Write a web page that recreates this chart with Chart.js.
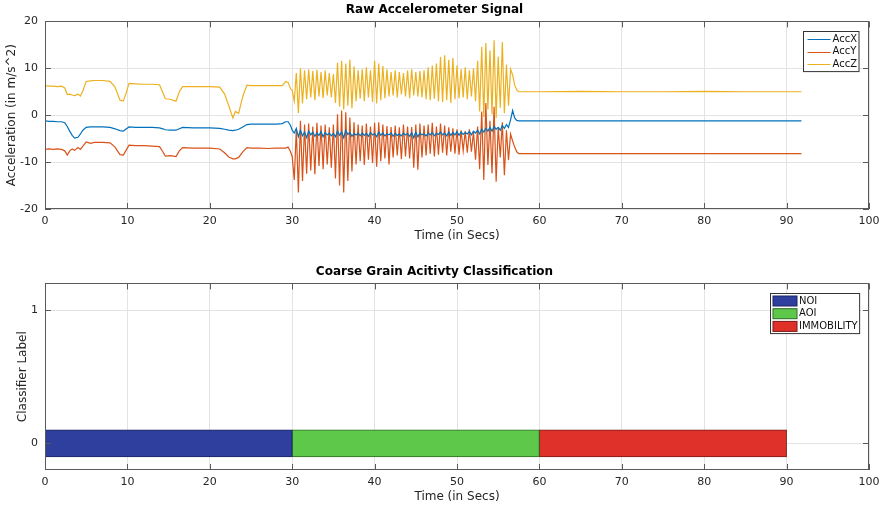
<!DOCTYPE html>
<html>
<head>
<meta charset="utf-8">
<script src="https://cdn.jsdelivr.net/npm/chart.js@4.4.0/dist/chart.umd.min.js"></script>
<style>
  html, body { margin: 0; padding: 0; background: #fff; }
  #wrap { position: relative; width: 887px; height: 509px; }
  .pane { position: absolute; left: 0; width: 887px; }
</style>
</head>
<body>
<div id="wrap">
  <div class="pane" style="top:0;height:250px"><canvas id="rawChart"></canvas></div>
  <div class="pane" style="top:250px;height:259px"><canvas id="classChart"></canvas></div>
</div>
<script>
// Raw accelerometer samples (time in secs, acc in m/s^2)
var timeSec = [
  0, 0.5, 1, 1.5, 2, 2.4, 2.7, 3, 3.3, 3.6,
  4, 4.3, 4.6, 5, 5.5, 6, 7, 7.9, 8.5, 9.1,
  9.5, 9.8, 10.2, 11, 12, 13, 13.9, 14.3, 14.6, 15.2,
  15.9, 16.3, 16.7, 18, 19, 20, 21.2, 21.8, 22.3, 22.8,
  23.1, 23.5, 24, 24.5, 25, 26, 27, 28, 28.8, 29.2,
  29.5, 29.8, 30,
  30.25, 30.5, 30.75, 31, 31.25, 31.5, 31.75, 32,
  32.25, 32.5, 32.75, 33, 33.25, 33.5, 33.75, 34,
  34.25, 34.5, 34.75, 35, 35.25, 35.5, 35.75, 36,
  36.25, 36.5, 36.75, 37, 37.25, 37.5, 37.75, 38,
  38.25, 38.5, 38.75, 39, 39.25, 39.5, 39.75, 40,
  40.25, 40.5, 40.75, 41, 41.25, 41.5, 41.75, 42,
  42.25, 42.5, 42.75, 43, 43.25, 43.5, 43.75, 44,
  44.25, 44.5, 44.75, 45, 45.25, 45.5, 45.75, 46,
  46.25, 46.5, 46.75, 47, 47.25, 47.5, 47.75, 48,
  48.25, 48.5, 48.75, 49, 49.25, 49.5, 49.75, 50,
  50.25, 50.5, 50.75, 51, 51.25, 51.5, 51.75, 52,
  52.25, 52.5, 52.75, 53, 53.25, 53.5, 53.75, 54,
  54.25, 54.5, 54.75, 55, 55.25, 55.5, 55.75, 56,
  56.25, 56.5, 56.75, 57, 57.25, 57.5,
  58, 60, 65, 70, 75, 80, 85, 90, 91.8
];

var accX = [
  -1.2, -1.3, -1.3, -1.4, -1.4, -1.6, -2.4, -3.4, -4.3, -4.9,
  -4.7, -4.0, -3.2, -2.6, -2.5, -2.5, -2.5, -2.6, -2.9, -3.3,
  -3.4, -3.0, -2.5, -2.6, -2.6, -2.6, -2.7, -2.9, -3.1, -3.2,
  -3.2, -2.9, -2.6, -2.7, -2.7, -2.7, -2.8, -3.0, -3.2, -3.3,
  -3.2, -3.0, -2.5, -2.0, -1.9, -1.9, -1.9, -1.9, -1.8, -1.4,
  -1.4, -2.2, -3.2,
  -3.8, -2.8, -4.6, -3.2, -4.4, -3.6, -4.8, -3.4,
  -4.2, -3.6, -4.5, -3.8, -4.3, -3.5, -4.6, -3.7,
  -4.2, -3.8, -4.4, -3.9, -4.6, -3.4, -4.3, -3.6,
  -4.8, -3.2, -4.1, -3.7, -4.5, -3.9, -4.2, -3.8,
  -4.4, -3.8, -4.3, -3.9, -4.5, -3.7, -4.2, -3.9,
  -4.6, -3.6, -4.3, -3.8, -4.4, -4.0, -4.2, -3.8,
  -4.5, -3.9, -4.3, -4.0, -4.4, -3.8, -4.2, -3.9,
  -4.5, -3.7, -4.8, -3.6, -4.6, -3.8, -4.2, -4.0,
  -4.4, -3.8, -4.2, -3.7, -4.4, -3.9, -4.1, -3.6,
  -4.2, -3.8, -4.4, -3.6, -4.3, -3.7, -4.2, -3.5,
  -4.3, -3.6, -4.1, -3.7, -4.0, -3.5, -4.2, -3.4,
  -3.8, -3.2, -4.0, -3.0, -3.6, -2.8, -3.4, -2.6,
  -3.4, -2.4, -3.0, -2.6, -3.2, -2.2, -2.8, -2.0,
  -2.6, -1.0, 1.0, -0.6, -1.1, -1.2,
  -1.2, -1.2, -1.2, -1.2, -1.2, -1.2, -1.2, -1.2, -1.2
];

var accY = [
  -7.3, -7.2, -7.3, -7.2, -7.3, -7.6, -8.5, -7.6, -7.2, -7.5,
  -6.9, -7.3, -6.6, -5.7, -6.0, -5.8, -5.8, -5.9, -6.8, -8.4,
  -8.5, -7.6, -6.4, -6.5, -6.5, -6.6, -6.7, -7.8, -8.7, -8.6,
  -8.8, -7.6, -6.9, -7.0, -7.0, -7.0, -7.2, -8.0, -8.9, -9.3,
  -9.3, -9.0, -7.8, -6.9, -7.0, -7.0, -7.1, -7.0, -7.0, -7.0,
  -6.8, -7.8, -8.8,
  -13.8, -3.0, -16.5, -1.2, -14.0, -2.0, -12.5, -1.8,
  -11.8, -2.4, -12.6, -1.6, -10.8, -2.2, -11.5, -2.0,
  -10.5, -2.6, -11.2, -2.0, -13.5, 0.2, -15.0, 1.0,
  -16.5, 0.6, -14.0, -0.5, -12.0, -1.5, -10.5, -2.0,
  -9.8, -2.2, -10.6, -1.8, -9.5, -2.4, -10.2, -1.6,
  -11.0, -1.5, -9.8, -2.0, -9.2, -2.3, -10.5, -2.5,
  -9.0, -2.2, -8.6, -2.6, -9.4, -2.0, -8.8, -2.4,
  -9.2, -2.5, -11.2, -2.0, -11.6, -1.8, -9.0, -2.2,
  -8.6, -2.0, -8.2, -1.6, -8.8, -2.4, -8.4, -1.8,
  -8.0, -2.2, -8.6, -2.6, -7.8, -2.8, -8.2, -3.0,
  -8.4, -3.2, -7.6, -3.4, -8.0, -3.0, -7.8, -3.6,
  -9.5, -2.4, -11.5, 0.8, -13.8, 2.6, -10.6, -1.2,
  -12.4, 1.8, -14.2, -2.5, -9.0, -1.5, -12.8, -3.2,
  -9.6, -4.0, -5.5, -6.8, -7.8, -8.2,
  -8.2, -8.2, -8.2, -8.2, -8.2, -8.2, -8.2, -8.2, -8.2
];

var accZ = [
  6.3, 6.2, 6.2, 6.1, 6.2, 5.8, 4.4, 4.5, 4.3, 4.2,
  4.5, 4.1, 5.2, 7.2, 7.3, 7.4, 7.4, 7.2, 6.0, 3.2,
  3.0, 4.5, 6.8, 6.7, 6.6, 6.6, 6.5, 4.8, 3.5, 3.4,
  3.0, 5.0, 6.1, 6.1, 6.1, 6.1, 6.0, 4.5, 2.0, -0.6,
  0.8, 0.4, 4.0, 6.4, 6.3, 6.3, 6.3, 6.3, 6.3, 7.2,
  7.0, 5.6, 5.3,
  3.0, 9.0, 0.5, 10.0, 2.5, 9.6, 3.4, 9.8,
  3.8, 9.4, 3.2, 9.7, 4.0, 9.2, 3.6, 9.5,
  4.2, 9.0, 3.8, 8.8, 2.6, 11.2, 1.8, 11.6,
  1.2, 11.0, 2.0, 11.8, 1.5, 10.4, 3.0, 9.6,
  3.5, 9.8, 3.0, 10.2, 3.8, 9.6, 2.8, 11.6,
  2.5, 11.0, 3.2, 10.5, 3.6, 9.8, 4.0, 9.2,
  4.2, 9.6, 3.8, 9.2, 4.4, 9.0, 4.0, 9.5,
  3.6, 9.8, 4.2, 9.2, 4.0, 9.4, 3.8, 9.6,
  3.4, 10.2, 3.2, 10.6, 3.5, 11.0, 3.0, 12.4,
  2.8, 12.8, 3.2, 11.8, 2.6, 12.2, 3.4, 10.6,
  3.6, 9.8, 3.8, 10.2, 3.4, 9.6, 4.0, 10.0,
  3.0, 11.6, 0.8, 14.6, -0.4, 15.4, 1.2, 13.8,
  0.2, 16.0, -0.6, 12.5, 1.6, 15.6, 0.4, 10.8,
  2.0, 9.8, 8.6, 6.4, 5.4, 5.0,
  5.0, 5.0, 5.1, 5.0, 5.0, 5.1, 5.0, 5.0, 5.0
];

var seriesNames = ['AccX', 'AccY', 'AccZ'];
var seriesColors = ['#0072bd', '#d95319', '#edb120'];

// Coarse classification segments
var classLabels = ['NOI', 'AOI', 'IMMOBILITY'];
var classStart = [0, 30, 60];
var classEnd = [30, 60, 90];
var classLevel = [0, 0, 0];
var classColors = ['#2e3f9e', '#5ec84a', '#e0302a'];
var classBorders = ['#1c2660', '#2f6a24', '#7a1a16'];

var timeTicks = [0, 10, 20, 30, 40, 50, 60, 70, 80, 90, 100];
var accTicks = [-20, -10, 0, 10, 20];
var classTicks = [0, 1];

Chart.defaults.font.family = "'DejaVu Sans', sans-serif";
Chart.defaults.color = '#262626';

function toPoints(ys) {
  return ys.map(function(v, i) { return { x: timeSec[i], y: v }; });
}

// box round the plot area with inward ticks on all four sides
var boxAxes = {
  id: 'boxAxes',
  afterDraw: function(chart) {
    var ctx = chart.ctx, a = chart.chartArea, sx = chart.scales.x, sy = chart.scales.y;
    ctx.save();
    ctx.strokeStyle = '#5a5a5a';
    ctx.lineWidth = 1;
    ctx.strokeRect(Math.round(a.left) + 0.5, Math.round(a.top) + 0.5,
      Math.round(a.right - a.left) - 1, Math.round(a.bottom - a.top) - 1);
    ctx.beginPath();
    sx.ticks.forEach(function(t) {
      var px = Math.round(sx.getPixelForValue(t.value)) + 0.5;
      ctx.moveTo(px, a.bottom); ctx.lineTo(px, a.bottom - 6);
      ctx.moveTo(px, a.top); ctx.lineTo(px, a.top + 6);
    });
    sy.ticks.forEach(function(t) {
      var py = Math.round(sy.getPixelForValue(t.value)) + 0.5;
      ctx.moveTo(a.left, py); ctx.lineTo(a.left + 6, py);
      ctx.moveTo(a.right, py); ctx.lineTo(a.right - 6, py);
    });
    ctx.stroke();
    ctx.restore();
  }
};

// MATLAB style legend in the top right corner of the plot area
var boxLegend = {
  id: 'boxLegend',
  afterDraw: function(chart) {
    var ctx = chart.ctx, a = chart.chartArea;
    var sets = chart.data.datasets;
    var isBar = chart.config.type === 'bar';
    ctx.save();
    ctx.font = "10px 'DejaVu Sans', sans-serif";
    var tw = 0;
    sets.forEach(function(d) { tw = Math.max(tw, ctx.measureText(d.label).width); });
    var sample = isBar ? 24 : 23;
    var padL = isBar ? 2.5 : 4;
    var w = padL + sample + 2 + tw + 2;
    var rowH = 12.7;
    var h = sets.length * rowH + 2;
    var x0 = Math.round(a.right - 10 - w) + 0.5;
    var y0 = Math.round(a.top + 10) + 0.5;
    ctx.fillStyle = '#fff';
    ctx.fillRect(x0, y0, w, h);
    ctx.strokeStyle = '#333';
    ctx.lineWidth = 1;
    ctx.strokeRect(x0, y0, w, h);
    sets.forEach(function(d, i) {
      var cy = y0 + 7.5 + i * rowH;
      if (isBar) {
        ctx.fillStyle = d.backgroundColor;
        ctx.fillRect(x0 + padL, cy - 5, sample, 10);
        ctx.strokeStyle = d.borderColor;
        ctx.strokeRect(x0 + padL, cy - 5, sample, 10);
      } else {
        ctx.strokeStyle = d.borderColor;
        ctx.beginPath();
        ctx.moveTo(x0 + padL, Math.round(cy) + 0.5);
        ctx.lineTo(x0 + padL + sample, Math.round(cy) + 0.5);
        ctx.stroke();
      }
      ctx.fillStyle = '#111';
      ctx.textBaseline = 'middle';
      ctx.fillText(d.label, x0 + padL + sample + 2, cy);
    });
    ctx.restore();
  }
};

function fixTicks(list) {
  return function(scale) {
    scale.ticks = list.map(function(v) { return { value: v }; });
  };
}

function fixSize(size) {
  return function(scale) {
    if (scale.isHorizontal()) scale.height = size; else scale.width = size;
  };
}

var gridStyle = { color: '#e3e3e3', drawTicks: false };

// top: raw signal
new Chart(document.getElementById('rawChart').getContext('2d'), {
  type: 'line',
  data: {
    datasets: [accX, accY, accZ].map(function(s, i) {
      return {
        label: seriesNames[i],
        data: toPoints(s),
        borderColor: seriesColors[i],
        backgroundColor: seriesColors[i],
        borderWidth: 1.2,
        pointRadius: 0,
        tension: 0,
        fill: false
      };
    })
  },
  options: {
    responsive: true,
    maintainAspectRatio: false,
    animation: false,
    layout: { padding: { left: 0, right: 18, top: 0, bottom: 0 } },
    plugins: {
      legend: { display: false },
      tooltip: { enabled: false },
      title: {
        display: true,
        text: 'Raw Accelerometer Signal',
        color: '#000',
        font: { size: 12, weight: 'bold' },
        padding: { top: 3, bottom: 4 }
      }
    },
    scales: {
      x: {
        type: 'linear', min: 0, max: 100,
        afterBuildTicks: fixTicks(timeTicks),
        afterFit: fixSize(41),
        grid: gridStyle,
        border: { display: false },
        ticks: { padding: 6, font: { size: 11 }, maxRotation: 0 },
        title: { display: true, text: 'Time (in Secs)', font: { size: 12 }, padding: { top: 0, bottom: 7 } }
      },
      y: {
        type: 'linear', min: -20, max: 20,
        afterBuildTicks: fixTicks(accTicks),
        afterFit: fixSize(45),
        grid: gridStyle,
        border: { display: false },
        ticks: { padding: 7, font: { size: 11 } },
        title: { display: true, text: 'Acceleration (in m/s^2)', font: { size: 12 }, padding: { top: 5, bottom: 0 } }
      }
    }
  },
  plugins: [boxAxes, boxLegend]
});

// bottom: classifier output as floating bars
new Chart(document.getElementById('classChart').getContext('2d'), {
  type: 'bar',
  data: {
    datasets: classLabels.map(function(lab, i) {
      return {
        label: lab,
        data: [{ x: [classStart[i], classEnd[i]], y: classLevel[i] }],
        backgroundColor: classColors[i],
        borderColor: classBorders[i],
        borderWidth: 1,
        borderSkipped: false,
        barThickness: 27,
        grouped: false
      };
    })
  },
  options: {
    indexAxis: 'y',
    responsive: true,
    maintainAspectRatio: false,
    animation: false,
    layout: { padding: { left: 0, right: 18, top: 0, bottom: 0 } },
    plugins: {
      legend: { display: false },
      tooltip: { enabled: false },
      title: {
        display: true,
        text: 'Coarse Grain Acitivty Classification',
        color: '#000',
        font: { size: 12, weight: 'bold' },
        padding: { top: 15, bottom: 4 }
      }
    },
    scales: {
      x: {
        type: 'linear', min: 0, max: 100,
        afterBuildTicks: fixTicks(timeTicks),
        afterFit: fixSize(39),
        grid: gridStyle,
        border: { display: false },
        ticks: { padding: 6, font: { size: 11 }, maxRotation: 0 },
        title: { display: true, text: 'Time (in Secs)', font: { size: 12 }, padding: { top: 0, bottom: 5 } }
      },
      y: {
        type: 'linear', min: -0.2, max: 1.2,
        offset: false,
        afterBuildTicks: fixTicks(classTicks),
        afterFit: fixSize(45),
        grid: { color: '#e3e3e3', drawTicks: false, offset: false },
        border: { display: false },
        ticks: { padding: 7, font: { size: 11 } },
        title: { display: true, text: 'Classifier Label', font: { size: 12 }, padding: { top: 16, bottom: 0 } }
      }
    }
  },
  plugins: [boxAxes, boxLegend]
});
</script>
</body>
</html>
